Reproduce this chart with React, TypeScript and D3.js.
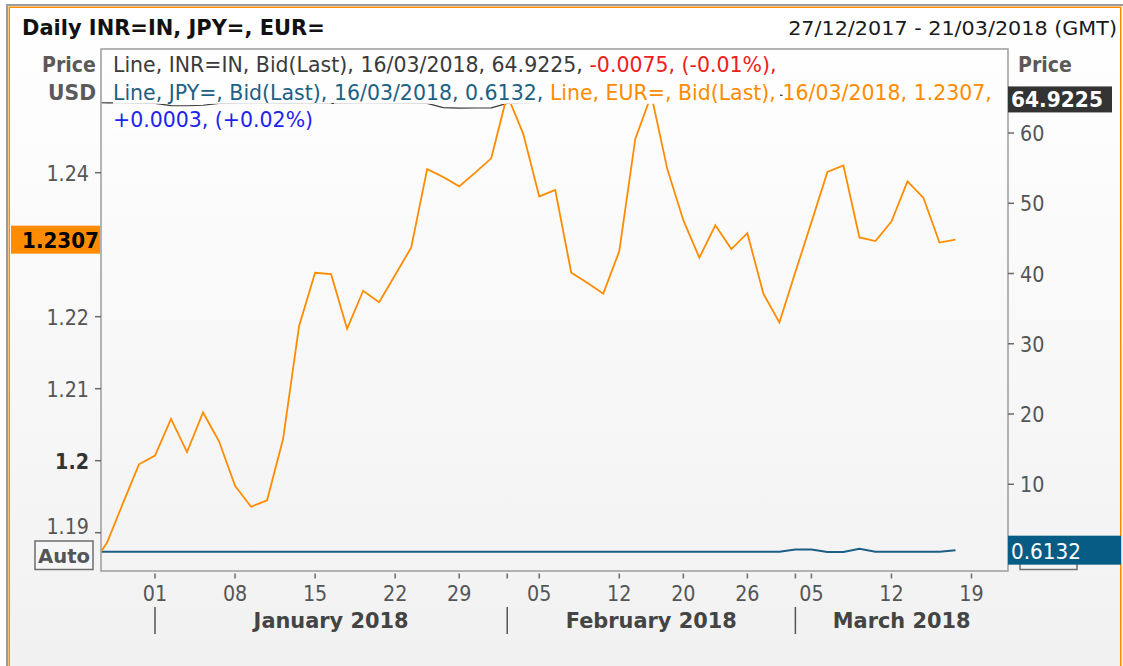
import React, { useEffect, useRef } from "react";
import * as d3 from "d3";

const W = 1123;
const H = 666;
const FONT = "'DejaVu Sans', Verdana, sans-serif";

// Trading days shown on the axis (index axis, non-trading days skipped)
const tradingDays: string[] = [
  "2017-12-26", "2017-12-27", "2017-12-28", "2017-12-29",
  "2018-01-01", "2018-01-02", "2018-01-03", "2018-01-04", "2018-01-05",
  "2018-01-08", "2018-01-09", "2018-01-10", "2018-01-11", "2018-01-12",
  "2018-01-15", "2018-01-16", "2018-01-17", "2018-01-18", "2018-01-19",
  "2018-01-22", "2018-01-23", "2018-01-24", "2018-01-25",
  "2018-01-29", "2018-01-30", "2018-01-31",
  "2018-02-01", "2018-02-02",
  "2018-02-05", "2018-02-06", "2018-02-07", "2018-02-08", "2018-02-09",
  "2018-02-12", "2018-02-14", "2018-02-15", "2018-02-16",
  "2018-02-20", "2018-02-21", "2018-02-22", "2018-02-23",
  "2018-02-26", "2018-02-27", "2018-02-28",
  "2018-03-01",
  "2018-03-05", "2018-03-06", "2018-03-07", "2018-03-08", "2018-03-09",
  "2018-03-12", "2018-03-13", "2018-03-14", "2018-03-15", "2018-03-16",
  "2018-03-19", "2018-03-20", "2018-03-21",
];

// EUR= Bid(Last), left axis
const eurBid: number[] = [
  1.1853, 1.1886, 1.1941, 1.1995,
  1.2007, 1.2058, 1.2012, 1.2067, 1.2027,
  1.1965, 1.1936, 1.1945, 1.2030, 1.2187,
  1.2261, 1.2259, 1.2183, 1.2236, 1.2220,
  1.2258, 1.2296, 1.2405, 1.2394,
  1.2381, 1.2400, 1.2420,
  1.2508, 1.2454,
  1.2367, 1.2376, 1.2261, 1.2247, 1.2232,
  1.2291, 1.2447, 1.2508, 1.2405,
  1.2334, 1.2282, 1.2327, 1.2294,
  1.2316, 1.2232, 1.2192,
  1.2262,
  1.2331, 1.2401, 1.2410, 1.2310, 1.2305,
  1.2332, 1.2388, 1.2365, 1.2303, 1.2307,
];

// JPY= Bid(Last), right axis
const jpyBid: number[] = [
  0.40, 0.40, 0.40, 0.40,
  0.40, 0.40, 0.40, 0.40, 0.40,
  0.40, 0.40, 0.40, 0.40, 0.40,
  0.40, 0.40, 0.40, 0.40, 0.40,
  0.40, 0.40, 0.40, 0.40,
  0.40, 0.40, 0.40,
  0.40, 0.40,
  0.40, 0.40, 0.40, 0.40, 0.40,
  0.40, 0.40, 0.40, 0.40,
  0.40, 0.40, 0.40, 0.40,
  0.40, 0.40, 0.40,
  0.72,
  0.72, 0.34, 0.36, 0.82, 0.40,
  0.40, 0.40, 0.40, 0.40, 0.6132,
];

// INR=IN Bid(Last), right axis
const inrBid: number[] = [
  64.32, 64.30, 64.28, 64.25,
  64.22, 63.90, 63.88, 63.95, 64.22,
  64.25, 64.28, 64.30, 64.26, 64.24,
  64.28, 64.20, 64.26, 64.30, 64.28,
  64.25, 64.24, 64.22, 63.62,
  63.55, 63.56, 63.58,
  64.22, 64.30,
  64.35, 64.40, 64.38, 64.45, 64.50,
  64.42, 64.48, 64.55, 64.65,
  64.80, 64.95, 65.05, 64.95,
  65.00, 65.15, 65.40,
  65.20,
  65.10, 65.05, 65.12, 65.02, 64.98,
  64.95, 65.00, 65.05, 64.93, 64.9225,
];

const leftTicks: number[] = [1.19, 1.2, 1.21, 1.22, 1.24];
const rightTicks: number[] = [10, 20, 30, 40, 50, 60];
const dayTicks: string[] = [
  "2018-01-01", "2018-01-08", "2018-01-15", "2018-01-22", "2018-01-29",
  "2018-02-05", "2018-02-12", "2018-02-20", "2018-02-26",
  "2018-03-05", "2018-03-12", "2018-03-19",
];
const monthStarts: string[] = ["2018-01-01", "2018-02-01", "2018-03-01"];
const monthNames: string[] = ["January 2018", "February 2018", "March 2018"];

const lastInr = 64.9225;
const lastJpy = 0.6132;
const lastEur = 1.2307;

const titleText = "Daily INR=IN, JPY=, EUR=";
const rangeText = "27/12/2017 - 21/03/2018 (GMT)";

const C_INR = "#3a3a3a";
const C_RED = "#f01c1c";
const C_JPY = "#1b6184";
const C_EUR = "#ff8c00";
const C_BLUE = "#2222ee";

const legendLines = [
  {
    baseline: 72,
    segs: [
      { t: "Line, INR=IN, Bid(Last), ", c: C_INR, gap: true },
      { t: "16/03/2018, 64.9225, ", c: C_INR, gap: false },
      { t: "-0.0075, (-0.01%),", c: C_RED, gap: false },
    ],
  },
  {
    baseline: 99.5,
    segs: [
      { t: "Line, JPY=, Bid(Last), ", c: C_JPY, gap: true },
      { t: "16/03/2018, 0.6132, ", c: C_JPY, gap: false },
      { t: "Line, EUR=, Bid(Last), ", c: C_EUR, gap: true },
      { t: "16/03/2018, 1.2307,", c: C_EUR, gap: false },
    ],
  },
  {
    baseline: 127,
    segs: [{ t: "+0.0003, (+0.02%)", c: C_BLUE, gap: false }],
  },
];

type Opts = {
  size: number;
  fill: string;
  weight?: string;
  anchor?: string;
  sx?: number;
  width?: number;
};

function label(g: any, x: number, y: number, str: string, o: Opts) {
  const t = g
    .append("text")
    .attr("text-anchor", o.anchor || "start")
    .attr("font-family", FONT)
    .attr("font-size", o.size)
    .attr("font-weight", o.weight || "normal")
    .attr("fill", o.fill)
    .style("white-space", "pre")
    .text(str);
  let sx = o.sx ?? 0.87;
  if (o.width) {
    const w = (t.node() as SVGTextElement).getComputedTextLength();
    if (w > 0) sx = o.width / w;
  }
  t.attr("transform", `translate(${x},${y}) scale(${sx},1)`);
  return t;
}

function draw(el: SVGSVGElement) {
  const svg = d3.select(el);
  svg.selectAll("*").remove();

  const PL = 101, PR = 1008, PT = 49, PB = 571;

  const x = d3.scaleLinear().domain([0.627, 57.28]).range([PL, PR]);
  const yL = d3.scaleLinear().domain([1.18468, 1.25718]).range([PB, PT]);
  const yR = d3.scaleLinear().domain([-2.35, 71.96]).range([PB, PT]);
  const pos = (d: string) => tradingDays.indexOf(d);

  const defs = svg.append("defs");
  const grad = defs
    .append("linearGradient")
    .attr("id", "bgGrad")
    .attr("x1", 0).attr("y1", 0).attr("x2", 0).attr("y2", 1);
  grad.append("stop").attr("offset", "0%").attr("stop-color", "#ffffff");
  grad.append("stop").attr("offset", "100%").attr("stop-color", "#f1f1f1");
  defs
    .append("clipPath")
    .attr("id", "plotClip")
    .append("rect")
    .attr("x", PL).attr("y", PT).attr("width", PR - PL).attr("height", PB - PT);

  svg.append("rect").attr("width", W).attr("height", H).attr("fill", "#ffffff");
  svg
    .append("rect")
    .attr("x", 7).attr("y", 5).attr("width", W + 20).attr("height", H)
    .attr("fill", "url(#bgGrad)")
    .attr("stroke", "#9c9c9c").attr("stroke-width", 2);
  svg
    .append("rect")
    .attr("x", 9.25).attr("y", 7.25).attr("width", 1111.5).attr("height", H + 20)
    .attr("fill", "none")
    .attr("stroke", "#ff8c00").attr("stroke-width", 1.5);

  // series
  const plotG = svg.append("g").attr("clip-path", "url(#plotClip)");
  const lineR = d3.line<number>().x((_, i) => x(i)).y((v) => yR(v));
  const lineL = d3.line<number>().x((_, i) => x(i)).y((v) => yL(v));
  plotG.append("path").datum(inrBid).attr("d", lineR).attr("fill", "none")
    .attr("stroke", "#3a3a3a").attr("stroke-width", 1.2);
  plotG.append("path").datum(jpyBid).attr("d", lineR).attr("fill", "none")
    .attr("stroke", "#1d5e86").attr("stroke-width", 2);
  plotG.append("path").datum(eurBid).attr("d", lineL).attr("fill", "none")
    .attr("stroke", C_EUR).attr("stroke-width", 1.8);

  // legend text with per-segment backgrounds
  const legendG = svg.append("g");
  const built = legendLines.map((line) => {
    const g = legendG.append("g");
    const bgG = g.append("g");
    const txtG = g.append("g");
    let off = 0;
    const items = line.segs.map((seg) => {
      const t = txtG
        .append("text")
        .attr("x", off)
        .attr("y", 0)
        .attr("font-family", FONT)
        .attr("font-size", 20.5)
        .attr("fill", seg.c)
        .style("white-space", "pre")
        .text(seg.t);
      const w = (t.node() as SVGTextElement).getComputedTextLength();
      const it = { off, w, gap: seg.gap };
      off += w;
      return it;
    });
    return { g, bgG, items, total: off, baseline: line.baseline };
  });
  const factor = built[1].total > 0 ? 879 / built[1].total : 0.85;
  built.forEach((b) => {
    b.g.attr("transform", `translate(113,${b.baseline}) scale(${factor},1)`);
    b.items.forEach((it) => {
      b.bgG
        .append("rect")
        .attr("x", it.off)
        .attr("y", -17.5)
        .attr("width", Math.max(0, it.w - (it.gap ? 2.5 / factor : 0)))
        .attr("height", 21.8)
        .attr("fill", "#fefefe");
    });
  });

  // plot frame
  svg
    .append("rect")
    .attr("x", PL).attr("y", PT).attr("width", PR - PL).attr("height", PB - PT)
    .attr("fill", "none").attr("stroke", "#a2a2a2").attr("stroke-width", 1.6);

  // title & range
  label(svg, 22, 35, titleText, { size: 21, weight: "bold", fill: "#111", width: 303 });
  label(svg, 1117, 35, rangeText, { size: 20, fill: "#1a1a1a", anchor: "end", width: 329 });

  // Price / USD captions
  label(svg, 96, 72, "Price", { size: 21, weight: "bold", fill: "#5a5a5a", anchor: "end", width: 54 });
  label(svg, 96, 99.5, "USD", { size: 21, weight: "bold", fill: "#5a5a5a", anchor: "end", width: 48 });
  label(svg, 1018, 72, "Price", { size: 21, weight: "bold", fill: "#5a5a5a", width: 54 });

  // Auto boxes (drawn before the badge so the right one sits underneath)
  const autoBoxes = [{ x0: 35, x1: 93, text: true }, { x0: 1020, x1: 1077, text: false }];
  autoBoxes.forEach((bx) => {
    svg.append("rect").attr("x", bx.x0).attr("y", 541).attr("width", bx.x1 - bx.x0).attr("height", 28.5)
      .attr("fill", "#f6f6f6").attr("stroke", "#6e6e6e").attr("stroke-width", 1.5);
    if (bx.text) {
      label(svg, (bx.x0 + bx.x1) / 2, 563, "Auto", {
        size: 20, weight: "bold", fill: "#555", anchor: "middle", width: 52,
      });
    }
  });

  // left axis
  const axC = "#555555";
  leftTicks.forEach((v, i) => {
    svg.append("line").attr("x1", 95).attr("x2", PL).attr("y1", yL(v)).attr("y2", yL(v))
      .attr("stroke", "#6a6a6a").attr("stroke-width", 1.5);
    const lift = i === 0 ? 6.5 : 0; // lowest label sits above the Auto box
    label(svg, 89, yL(v) + 8 - lift, String(v), {
      size: 22, fill: v === 1.2 ? "#333" : axC, anchor: "end", weight: v === 1.2 ? "bold" : "normal",
    });
  });

  // right axis
  rightTicks.forEach((v) => {
    svg.append("line").attr("x1", PR).attr("x2", PR + 6).attr("y1", yR(v)).attr("y2", yR(v))
      .attr("stroke", "#6a6a6a").attr("stroke-width", 1.5);
    label(svg, 1020, yR(v) + 8, String(v), { size: 22, fill: axC });
  });

  // x axis ticks
  const parse = d3.timeParse("%Y-%m-%d");
  const fmtDay = d3.timeFormat("%d");
  const smallTicks = Array.from(new Set([...dayTicks, ...monthStarts]));
  smallTicks.forEach((d) => {
    const xx = x(pos(d));
    svg.append("line").attr("x1", xx).attr("x2", xx).attr("y1", 573.5).attr("y2", 578.5)
      .attr("stroke", "#6a6a6a").attr("stroke-width", 1.5);
  });
  dayTicks.forEach((d) => {
    label(svg, x(pos(d)), 601, fmtDay(parse(d) as Date), { size: 22, fill: axC, anchor: "middle" });
  });
  monthStarts.forEach((d) => {
    const xx = x(pos(d));
    svg.append("line").attr("x1", xx).attr("x2", xx).attr("y1", 607).attr("y2", 634)
      .attr("stroke", "#555").attr("stroke-width", 1.5);
  });
  let mFactor = 0.84;
  monthNames.forEach((m, i) => {
    const a = x(pos(monthStarts[i]));
    const b = i + 1 < monthStarts.length ? x(pos(monthStarts[i + 1])) : PR;
    const t = label(svg, (a + b) / 2, 628, m, {
      size: 22, weight: "bold", fill: "#444", anchor: "middle", sx: mFactor,
    });
    if (i === 0) {
      const w = (t.node() as SVGTextElement).getComputedTextLength();
      if (w > 0) {
        mFactor = 155 / w;
        t.attr("transform", `translate(${(a + b) / 2},628) scale(${mFactor},1)`);
      }
    }
  });

  // last value badges
  const yE = yL(lastEur);
  svg.append("rect").attr("x", 11).attr("y", yE - 14).attr("width", 89).attr("height", 28).attr("fill", "#ff8c00");
  label(svg, 99, yE + 8, String(lastEur), { size: 22, weight: "bold", fill: "#000", anchor: "end", width: 77 });

  const yI = yR(lastInr);
  svg.append("rect").attr("x", PR).attr("y", yI - 12).attr("width", 104).attr("height", 26).attr("fill", "#333333");
  label(svg, 1011, yI + 9, String(lastInr), { size: 22, weight: "bold", fill: "#ffffff", width: 92 });

  const yJ = yR(lastJpy);
  svg.append("rect").attr("x", PR).attr("y", yJ - 14.5).attr("width", 1121 - PR).attr("height", 29).attr("fill", "#075c86");
  label(svg, 1011, yJ + 8.5, String(lastJpy), { size: 22, fill: "#ffffff", width: 70 });
}

export default function App() {
  const ref = useRef<SVGSVGElement>(null);
  useEffect(() => {
    if (ref.current) draw(ref.current);
  }, []);
  return (
    <svg
      ref={ref}
      width={W}
      height={H}
      style={{ position: "absolute", left: 0, top: 0, display: "block" }}
    />
  );
}
